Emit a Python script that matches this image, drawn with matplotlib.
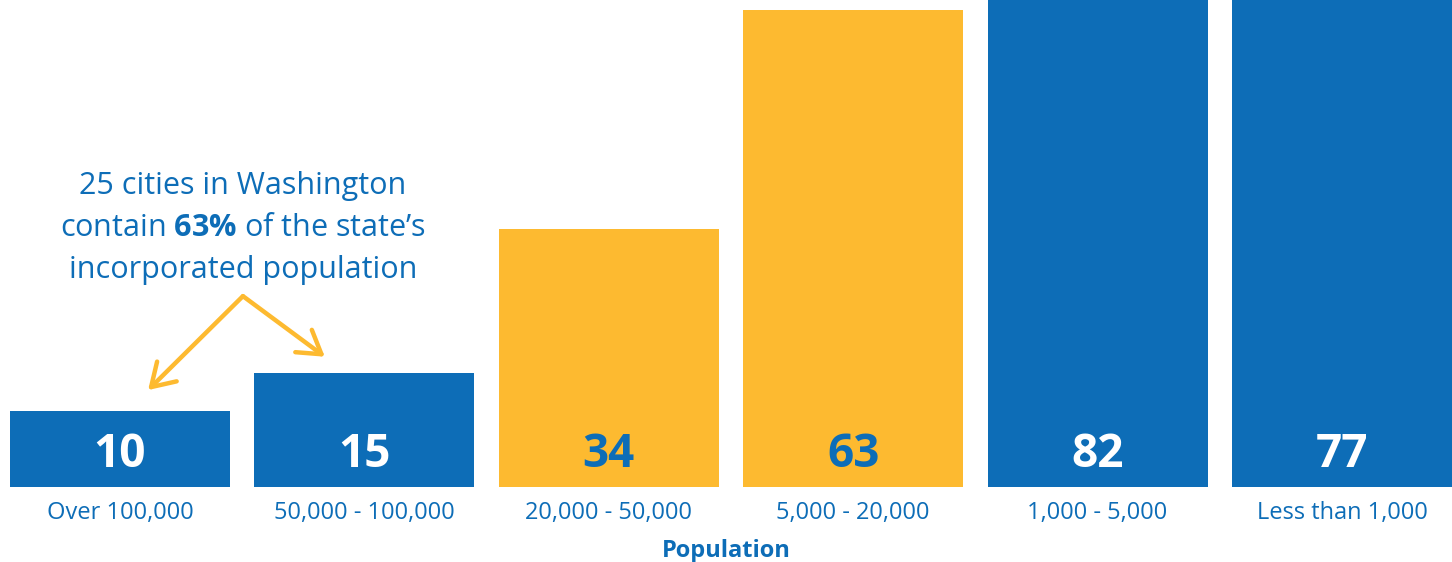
import matplotlib
matplotlib.use("Agg")
import matplotlib.pyplot as plt

plt.rcParams["font.family"] = ["Open Sans", "DejaVu Sans"]
plt.rcParams["mathtext.fontset"] = "custom"
plt.rcParams["mathtext.rm"] = "Open Sans"
plt.rcParams["mathtext.bf"] = "Open Sans:bold"

BLUE = "#0d6db7"
GOLD = "#fdba30"

categories = ["Over 100,000", "50,000 - 100,000", "20,000 - 50,000",
              "5,000 - 20,000", "1,000 - 5,000", "Less than 1,000"]
cities = [10, 15, 34, 63, 82, 77]
highlight = [False, False, True, True, False, False]

fig = plt.figure(figsize=(14.52, 5.62), dpi=100)
ax = fig.add_axes([0, 75 / 562, 1, 487 / 562])

x = list(range(len(categories)))
colors = [GOLD if h else BLUE for h in highlight]
ax.bar(x, cities, width=0.9, color=colors, linewidth=0)

ax.set_xlim(-0.491, 5.45)
ax.set_ylim(0, 64.3)
for s in ax.spines.values():
    s.set_visible(False)
ax.set_yticks([])
ax.set_xticks(x)
ax.set_xticklabels(categories, fontsize=17, color=BLUE)
ax.tick_params(axis="x", length=0, pad=10)

# value labels inside bars
for xi, v, h in zip(x, cities, highlight):
    ax.annotate(str(v), (xi, 0), xytext=(0, 27.5), textcoords="offset points",
                ha="center", va="center_baseline", fontsize=33,
                fontweight="bold", color=BLUE if h else "white")

ax.set_xlabel("Population", fontsize=17, fontweight="bold", color=BLUE,
              labelpad=10.5)

# annotation
note_x = 0.503
ax.text(note_x, 39.7, "25 cities in Washington", ha="center", va="center",
        fontsize=22, color=BLUE)
ax.text(note_x, 34.2, r"contain $\mathbf{63\%}$ of the state’s", ha="center",
        va="center", fontsize=22, color=BLUE)
ax.text(note_x, 28.7, "incorporated population", ha="center", va="center",
        fontsize=22, color=BLUE)

apex = (0.503, 25.2)
for tip in [(0.115, 12.8), (0.838, 17.2)]:
    ax.annotate("", xy=tip, xytext=apex,
                arrowprops=dict(arrowstyle="->,head_length=0.8,head_width=0.5",
                                color=GOLD, lw=3.2, shrinkA=0, shrinkB=0,
                                mutation_scale=20))

fig.savefig("out.png", dpi=100)
